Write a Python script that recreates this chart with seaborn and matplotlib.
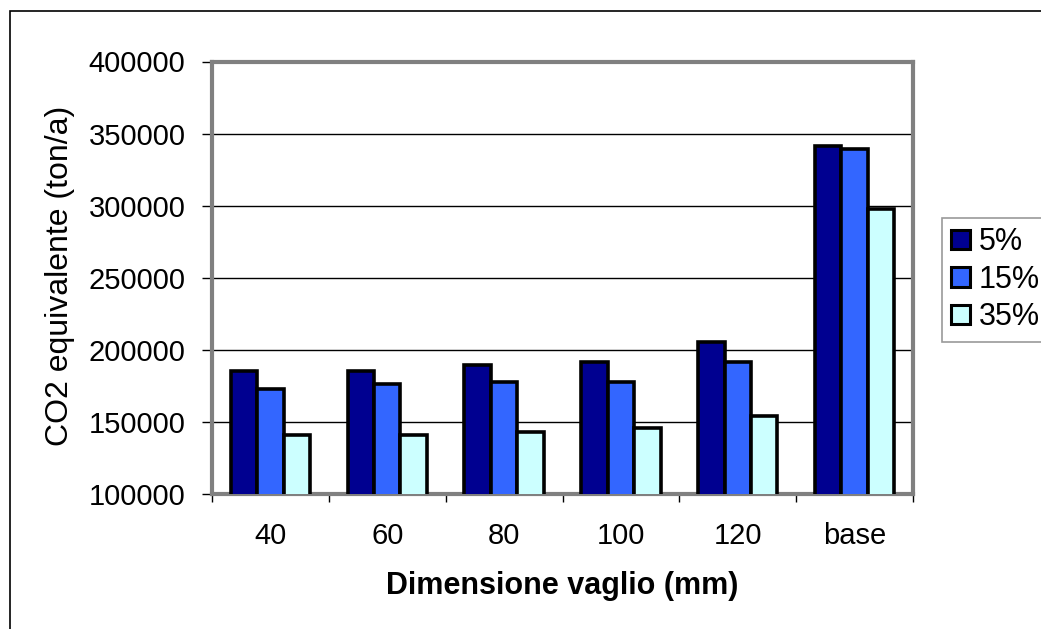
import matplotlib
matplotlib.use("Agg")
import matplotlib.pyplot as plt
import seaborn as sns
import pandas as pd
from matplotlib.patches import Rectangle

categories = ["40", "60", "80", "100", "120", "base"]
series_names = ["5%", "15%", "35%"]
v5 = [185000, 185000, 189500, 191500, 205500, 341500]
v15 = [173000, 176000, 178000, 178000, 191500, 339000]
v35 = [141000, 141000, 143000, 145500, 154000, 298000]
colors = ["#000090", "#3366FF", "#CCFFFF"]

rows = []
for name, vals in zip(series_names, [v5, v15, v35]):
    for c, v in zip(categories, vals):
        rows.append({"cat": c, "serie": name, "val": v})
df = pd.DataFrame(rows)

sns.set_theme(style="white")
plt.rcParams["font.family"] = ["Liberation Sans", "DejaVu Sans"]
plt.rcParams["text.color"] = "black"
plt.rcParams["xtick.color"] = "black"
plt.rcParams["ytick.color"] = "black"
plt.rcParams["axes.labelcolor"] = "black"

fig = plt.figure(figsize=(10.41, 6.29), dpi=100)
ax = fig.add_axes([212/1041, 1-494/629, (913-212)/1041, (494-61.5)/629])

sns.barplot(data=df, x="cat", y="val", hue="serie", order=categories,
            hue_order=series_names, palette=colors, width=0.68,
            edgecolor="black", linewidth=2.6, ax=ax, saturation=1,
            legend=True, zorder=3)

ax.set_ylim(100000, 400000)
ax.set_yticks(range(100000, 400001, 50000))
ax.set_yticklabels([str(t) for t in range(100000, 400001, 50000)], fontsize=21)
ax.yaxis.grid(True, color="black", linewidth=1.0, zorder=0)
ax.set_axisbelow(True)
ax.set_xlim(-0.5, len(categories) - 0.5)

# category tick labels centred, tick marks at group boundaries
ax.set_xticks(range(len(categories)))
ax.set_xticklabels(categories, fontsize=21)
ax.tick_params(axis="x", length=0, pad=20)
ax.set_xticks([i - 0.5 for i in range(len(categories) + 1)], minor=True)
ax.tick_params(axis="x", which="minor", length=6, width=1, color="black", direction="out", bottom=True)
ax.tick_params(axis="y", length=7, width=1, color="black", direction="out", left=True, pad=12)

for s in ax.spines.values():
    s.set_visible(True)
    s.set_color("#808080")
    s.set_linewidth(3)

ax.set_xlabel("Dimensione vaglio (mm)", fontsize=22, fontweight="bold", labelpad=15)
ax.set_ylabel("")
fig.text(60/1041, 1-276/629, "CO2 equivalente (ton/a)", rotation=90,
         ha="center", va="center", fontsize=23)

leg = ax.legend(loc="upper left", bbox_to_anchor=(942/1041, 1-218/629),
                bbox_transform=fig.transFigure, fontsize=22, frameon=True,
                fancybox=False, edgecolor="#808080", handlelength=0.6,
                handleheight=0.6, handletextpad=0.3, borderpad=0.3,
                labelspacing=0.25, borderaxespad=0)
leg.get_frame().set_linewidth(1.2)
for h in leg.legend_handles:
    h.set_edgecolor("black")
    h.set_linewidth(2.2)

# outer chart border
fig.patches.append(Rectangle((10/1041, -0.1), 1.2, 1 - 11/629 + 0.1,
                             transform=fig.transFigure, fill=False,
                             edgecolor="black", linewidth=1.2))

fig.savefig("out.png", dpi=100, facecolor="white")
